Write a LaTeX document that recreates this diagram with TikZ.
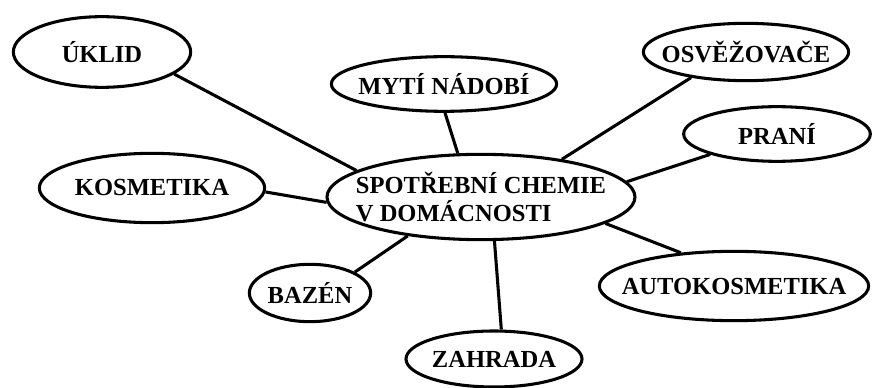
\documentclass[tikz,border=0pt]{standalone}
\usepackage{fontspec}
\setmainfont{Liberation Serif}
\usetikzlibrary{shapes.geometric}

\begin{document}
\begin{tikzpicture}[x=0.75pt, y=-0.75pt,
  bubble/.style={draw, ellipse, line width=2.3pt, inner xsep=-30pt, inner ysep=0pt,
    font=\fontsize{18.4}{21}\selectfont\bfseries},
  link/.style={line width=2.3pt}]
\useasboundingbox (0,0) rectangle (872,388);

% Centre
\node[bubble, minimum width=231pt, minimum height=64pt, align=left] (chemie) at (481,197)
  {SPOTŘEBNÍ CHEMIE\\V DOMÁCNOSTI};

% Branches
\node[bubble, minimum width=133pt, minimum height=53pt] (uklid) at (102,52) {ÚKLID};
\node[bubble, minimum width=169pt, minimum height=41pt] (myti) at (444,84) {MYTÍ NÁDOBÍ};
\node[bubble, minimum width=154pt, minimum height=43pt] (osvez) at (746,52) {OSVĚŽOVAČE};
\node[bubble, minimum width=140pt, minimum height=41pt] (prani) at (777,134) {PRANÍ};
\node[bubble, minimum width=169pt, minimum height=52pt] (kosm) at (152,188) {KOSMETIKA};
\node[bubble, minimum width=91pt, minimum height=43pt] (bazen) at (310,293) {BAZÉN};
\node[bubble, minimum width=132pt, minimum height=42pt] (zahrada) at (494,359) {ZAHRADA};
\node[bubble, minimum width=202pt, minimum height=52pt] (auto) at (734,286) {AUTOKOSMETIKA};

% Connectors
\draw[link] (chemie.168) -- (uklid.-17);
\draw[link] (chemie.118) -- (myti.-88);
\draw[link] (chemie.25) -- (osvez.205);
\draw[link] (chemie.6) -- (prani.197);
\draw[link] (chemie.182) -- (kosm.-2);
\draw[link] (chemie.208) -- (bazen.25);
\draw[link] (chemie.287) -- (zahrada.76);
\draw[link] (chemie.348) -- (auto.148);

\end{tikzpicture}
\end{document}
